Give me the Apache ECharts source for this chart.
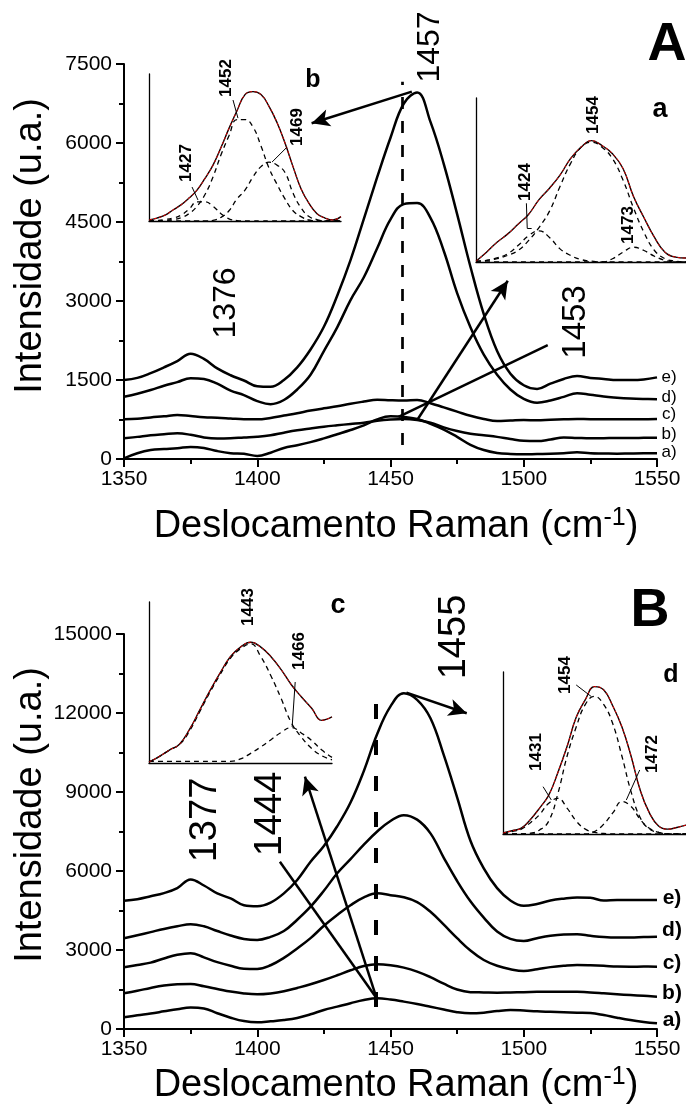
<!DOCTYPE html>
<html><head><meta charset="utf-8">
<script src="https://cdn.jsdelivr.net/npm/echarts@6/dist/echarts.min.js"></script>
<style>html,body{margin:0;padding:0;background:#fff}#c{width:686px;height:1109px}</style>
</head><body><div id="c"></div>
<script>
// ---------- DATA ----------
const ramanX = [1350,1355,1360,1365,1370,1375,1380,1385,1390,1395,1400,1405,1410,1415,1420,1425,1430,1435,1440,1445,1450,1455,1460,1465,1470,1475,1480,1485,1490,1495,1500,1505,1510,1515,1520,1525,1530,1535,1540,1545,1550];
const xTicks = [1350,1400,1450,1500,1550];
const yTicksA = [0,1500,3000,4500,6000,7500];
const yTicksB = [0,3000,6000,9000,12000,15000];

// Panel A spectra
const A_e = [1500,1540,1630,1740,1860,2000,1900,1720,1590,1490,1380,1370,1500,1740,2080,2510,3100,3776,4560,5350,6100,6750,6960,6400,5600,4650,3650,2750,2050,1620,1400,1330,1430,1520,1575,1540,1520,1500,1500,1510,1550];
const A_d = [1183,1240,1310,1390,1460,1535,1520,1430,1300,1214,1100,1040,1120,1320,1600,2050,2500,3017,3450,4000,4550,4840,4860,4580,3950,3150,2500,1980,1600,1320,1140,1068,1110,1180,1250,1220,1185,1165,1150,1140,1133];
const A_c = [753,765,790,810,835,815,795,785,770,755,753,780,825,870,920,962,1000,1050,1090,1125,1115,1110,1120,1060,980,900,820,760,720,730,740,735,745,753,760,755,755,755,753,755,760];
const A_b = [392,420,450,470,487,460,410,390,395,410,423,450,500,545,580,613,640,665,690,727,750,760,740,690,600,530,480,450,420,380,345,340,370,410,400,392,395,400,400,402,404];
const A_a = [13,110,171,190,205,230,210,150,110,100,57,120,210,260,320,392,470,550,640,753,810,800,760,670,560,420,270,170,115,95,89,95,100,110,127,110,105,100,105,108,108];

// Panel B spectra
const B_e = [4873,4930,5040,5160,5350,5680,5450,5150,4960,4700,4660,4800,5150,5660,6350,6950,7700,8600,9800,11200,12250,12750,12500,11800,10400,8800,7150,6100,5350,4880,4680,4750,4880,4950,4990,4980,4880,4900,4900,4900,4900];
const B_d = [3444,3560,3680,3800,3900,3980,3900,3720,3550,3420,3380,3500,3720,4150,4646,5250,5913,6450,7000,7500,7900,8120,7950,7430,6500,5620,4850,4230,3700,3420,3340,3450,3540,3590,3600,3540,3490,3470,3470,3490,3507];
const B_c = [2343,2430,2520,2680,2820,2880,2720,2540,2400,2290,2280,2420,2700,3060,3450,3920,4330,4700,5000,5154,5080,5000,4820,4450,3960,3450,2980,2620,2400,2270,2203,2270,2350,2400,2430,2420,2400,2370,2366,2370,2366];
const B_b = [1356,1450,1560,1650,1700,1709,1620,1520,1420,1350,1318,1350,1430,1560,1700,1861,2040,2230,2390,2457,2420,2330,2180,1970,1720,1500,1400,1390,1380,1390,1400,1410,1418,1418,1410,1390,1356,1320,1290,1260,1228];
const B_a = [444,520,590,670,750,815,780,600,430,300,253,290,340,420,560,722,850,980,1100,1165,1120,1040,950,845,740,640,595,620,680,720,700,670,655,640,620,605,530,430,340,270,215];

// Inset b (panel A, left)
const insetBX = [1395,1400,1405,1410,1415,1420,1425,1430,1435,1440,1445,1450,1455,1460,1465,1470,1475,1480,1485,1490,1495,1500,1505,1510,1515];
const insetB_total = [0.7,2,4,7.5,11,15.6,21,29,38,50,63,75,86,88,86,78,67,53,37,22,12,5,2,0.7,3];
const insetB_1427 = [0,0.3,1,2,4,8,13,13,10,5,1.5,0.3,0,0,0,0,0,0,0,0,0,0,0,0,0];
const insetB_1452 = [0,0,0.3,1,2.2,5,10,18,30,45,58,69,69,64,51,36,25,15,7,3,0.7,0,0,0,0];
const insetB_1469 = [0,0,0,0,0,0,0,0,0.5,2.5,7,15,21,30,37,40,38,33,19,9,3,1,0,0,0];

// Inset a (panel A, right)
const insetAX = [1400,1405,1410,1415,1420,1425,1430,1435,1440,1445,1450,1455,1460,1465,1470,1475,1480,1485,1490,1495,1500];
const insetA_total = [0.5,6,12,17,23,29,38,45,53,63,70,74,71,66,57,40,27,15,6,3,2.4];
const insetA_1424 = [0.5,1,2.5,5,10,16,19,15,8,4,1.5,0.5,0,0,0,0,0,0,0,0,0];
const insetA_1454 = [0.5,1,2,4,7,13,21,31,46,60,70,73,70,63,50,33,18,7,2,0.5,0];
const insetA_1473 = [0,0,0,0,0,0,0,0,0,0,0,0,0,2,6,9,7,3.5,1,0,0];

// Inset c (panel B, left)
const insetCX = [1395,1400,1405,1410,1415,1420,1425,1430,1435,1440,1445,1450,1455,1460,1465,1470,1475,1480,1485];
const insetC_total = [0.6,4,8,11.7,21,33,45,56,66,72,75,72,66,58,48.6,41,34,26.5,28.6];
const insetC_1443 = [0.6,4,8,11.5,20,32,44,55,65,71,74,66,54,40,25,16,9,4.5,2];
const insetC_1466 = [1,1,1,1,1,1,1,1,1,2.5,6,10,14.5,19,22,18.5,14,8,3.5];

// Inset d (panel B, right)
const insetDX = [1405,1410,1415,1420,1425,1430,1435,1440,1445,1450,1455,1460,1465,1470,1475,1480,1485,1490,1495,1500,1505];
const insetD_total = [0.6,2,3.6,9,16,24,38,54,72,83,91,89,79,66,48,27,13,5,3,4,5.5];
const insetD_1431 = [0.5,1.5,3,7,12,19,22,16,8,3,1,0.3,0,0,0,0,0,0,0,0,0];
const insetD_1454 = [0,0,0,0.5,2.5,8,25,48,66,80,85,80,68,48,26,10,3,1,0,0,0];
const insetD_1472 = [0,0,0,0,0,0,0,0,0,0,1.5,6,13,20,17,9,3.5,1,0,0,0];

// ---------- CHART ----------
const FF = '"Liberation Sans", Arial, sans-serif';
const chart = echarts.init(document.getElementById('c'), null, {renderer:'canvas', width:686, height:1109});
const zip = (xs, ys) => xs.map((x,i)=>[x, ys[i]]);
const plain = v => String(v);

function mainX(gi){ return {gridIndex:gi, type:'value', min:xTicks[0], max:xTicks[xTicks.length-1], interval:50,
  axisLine:{show:true, onZero:false, lineStyle:{color:'#000', width:2}},
  axisTick:{show:true, length:8, lineStyle:{color:'#000', width:2}},
  minorTick:{show:true, splitNumber:2, length:5, lineStyle:{color:'#000', width:2}},
  axisLabel:{show:true, color:'#000', fontSize:21, fontFamily:FF, margin:10, formatter:plain},
  splitLine:{show:false}, minorSplitLine:{show:false}}; }
function mainY(gi, ticks){ return {gridIndex:gi, type:'value', min:ticks[0], max:ticks[ticks.length-1], interval:ticks[1]-ticks[0],
  axisLine:{show:true, onZero:false, lineStyle:{color:'#000', width:2}},
  axisTick:{show:true, length:8, lineStyle:{color:'#000', width:2}},
  minorTick:{show:true, splitNumber:2, length:5, lineStyle:{color:'#000', width:2}},
  axisLabel:{show:true, color:'#000', fontSize:21, fontFamily:FF, margin:12, formatter:plain},
  splitLine:{show:false}, minorSplitLine:{show:false}}; }
function insetX(gi, xs){ return {gridIndex:gi, type:'value', min:xs[0], max:xs[xs.length-1],
  axisLine:{show:true, onZero:false, lineStyle:{color:'#000', width:1.3}}, axisTick:{show:false}, axisLabel:{show:false}, splitLine:{show:false}}; }
function insetY(gi){ return {gridIndex:gi, type:'value', min:0, max:100,
  axisLine:{show:true, onZero:false, lineStyle:{color:'#000', width:1.3}}, axisTick:{show:false}, axisLabel:{show:false}, splitLine:{show:false}}; }

function mainSeries(arr, gi, extra){ return Object.assign({type:'line', xAxisIndex:gi, yAxisIndex:gi, data:zip(ramanX, arr), smooth:0.4,
  symbol:'none', silent:true, animation:false, z:3, lineStyle:{color:'#000', width:2.5, join:'round'}}, extra||{}); }
function insetSeries(xs, arr, gi, kind, extra){
  let ls;
  if (kind==='total') ls = {color:'#000', width:1.4};
  else if (kind==='red') ls = {color:'#e00000', width:1, type:[3,2]};
  else ls = {color:'#000', width:1.3, type:[5,4]};
  return Object.assign({type:'line', xAxisIndex:gi, yAxisIndex:gi, data:zip(xs, arr), smooth:0.45, symbol:'none', silent:true, animation:false, z:4, lineStyle:ls}, extra||{});
}
function ml(lines){ return {silent:true, animation:false, symbol:['none','none'], label:{show:false}, emphasis:{disabled:true},
  lineStyle:{color:'#000', width:2.5, type:'solid'}, data:lines}; }
const seg = (p, q, opt) => [Object.assign({coord:p, symbol:'none'}, opt && opt.s||{}), Object.assign({coord:q, symbol:(opt&&opt.arrow)?'arrow':'none', symbolSize:[13,18]}, opt && opt.e||{})];
const leader = (p, q) => [{coord:p, symbol:'none'}, {coord:q, symbol:'none'}];

// annotation geometry (in data coordinates)
const annA = [
  [{coord:[1454.5, 266], symbol:'none', lineStyle:{type:[12,12], width:2.7}}, {coord:[1454.5, 7164], symbol:'none'}],
  seg([1458, 6975], [1420.4, 6374], {arrow:true}),
  seg([1460.2, 754], [1494, 3385], {arrow:true}),
  seg([1453, 800], [1509, 2164])
];
const annB = [
  [{coord:[1444.6, 836], symbol:'none', lineStyle:{type:[15,21], width:4}}, {coord:[1444.6, 12370], symbol:'none'}],
  seg([1456, 12773], [1478.6, 11990], {arrow:true}),
  seg([1444.8, 1166], [1417.9, 9582], {arrow:true}),
  seg([1444.8, 1166], [1408.5, 6354])
];
function leaderML(lines){ return {silent:true, animation:false, symbol:['none','none'], label:{show:false}, emphasis:{disabled:true}, lineStyle:{color:'#000', width:1, type:'solid'}, data:lines}; }

const series = [
  mainSeries(A_e, 0, {markLine: ml(annA)}), mainSeries(A_d, 0), mainSeries(A_c, 0), mainSeries(A_b, 0), mainSeries(A_a, 0),
  mainSeries(B_e, 1, {markLine: ml(annB)}), mainSeries(B_d, 1), mainSeries(B_c, 1), mainSeries(B_b, 1), mainSeries(B_a, 1),
  // inset b
  insetSeries(insetBX, insetB_1427, 2, 'comp'), insetSeries(insetBX, insetB_1452, 2, 'comp'), insetSeries(insetBX, insetB_1469, 2, 'comp'),
  insetSeries(insetBX, insetB_total, 2, 'total', {markLine: leaderML([leader([1421.9,23.1],[1425.6,14.3]), leader([1447.5,82.3],[1450.6,70]), leader([1481.3,50.3],[1471.9,40.1])])}),
  insetSeries(insetBX, insetB_total, 2, 'red'),
  // inset a
  insetSeries(insetAX, insetA_1424, 3, 'comp'), insetSeries(insetAX, insetA_1454, 3, 'comp'), insetSeries(insetAX, insetA_1473, 3, 'comp'),
  insetSeries(insetAX, insetA_total, 3, 'total', {markLine: leaderML([leader([1424,35.8],[1424.4,20.5]), leader([1424.4,20.5],[1426.5,20.5])])}),
  insetSeries(insetAX, insetA_total, 3, 'red'),
  // inset c
  insetSeries(insetCX, insetC_1443, 4, 'comp'), insetSeries(insetCX, insetC_1466, 4, 'comp'),
  insetSeries(insetCX, insetC_total, 4, 'total', {markLine: leaderML([leader([1466.9,50.3],[1465.4,22.4])])}),
  insetSeries(insetCX, insetC_total, 4, 'red'),
  // inset d
  insetSeries(insetDX, insetD_1431, 5, 'comp'), insetSeries(insetDX, insetD_1454, 5, 'comp'), insetSeries(insetDX, insetD_1472, 5, 'comp'),
  insetSeries(insetDX, insetD_total, 5, 'total', {markLine: leaderML([leader([1445,92],[1453.3,84.8]), leader([1426.9,29.2],[1431.4,21]), leader([1479.7,39.5],[1472.4,21])])}),
  insetSeries(insetDX, insetD_total, 5, 'red')
];

function txt(x, y, s, font, rot, extra){ return {type:'text', x:x, y:y, rotation:rot||0, silent:true, z:10,
  style:Object.assign({text:s, font:font, fill:'#000', align:'center', verticalAlign:'middle', textAlign:'center', textVerticalAlign:'middle'}, extra||{})}; }
const R = Math.PI/2;
const fBig = n => n + 'px ' + FF;
const fBold = n => 'bold ' + n + 'px ' + FF;
const xTitleRich = {m:{font:fBig(38), fill:'#000'}, s:{font:fBig(25), fill:'#000', verticalAlign:'top', padding:[0,0,18,0]}};

const graphics = [
  // axis titles
  txt(31, 246, 'Intensidade (u.a.)', fBig(38), R),
  txt(31, 815, 'Intensidade (u.a.)', fBig(38), R),
  txt(396, 527, '{m|Deslocamento Raman (cm}{s|-1}{m|)}', fBig(38), 0, {rich:xTitleRich}),
  txt(396, 1086, '{m|Deslocamento Raman (cm}{s|-1}{m|)}', fBig(38), 0, {rich:xTitleRich}),
  // panel letters
  txt(667, 45, 'A', fBold(54)), txt(650, 611, 'B', fBold(54)),
  // main peak labels
  txt(430, 47, '1457', fBig(32), R), txt(226, 303, '1376', fBig(32), R), txt(576, 322, '1453', fBig(33), R),
  txt(455, 637, '1455', fBig(38), R), txt(206, 820, '1377', fBig(38), R), txt(271, 814, '1444', fBig(38), R),
  // curve labels panel A
  txt(669, 377, 'e)', fBig(17)), txt(669, 397, 'd)', fBig(17)), txt(669, 414, 'c)', fBig(17)), txt(669, 434, 'b)', fBig(17)), txt(669, 452, 'a)', fBig(17)),
  // curve labels panel B
  txt(672, 898, 'e)', fBold(21)), txt(672, 930, 'd)', fBold(21)), txt(672, 963, 'c)', fBold(21)), txt(672, 993, 'b)', fBold(21)), txt(672, 1020, 'a)', fBold(21)),
  // inset labels
  txt(313, 80, 'b', fBold(25)), txt(186, 163, '1427', fBold(17), R), txt(226, 78, '1452', fBold(17), R), txt(297, 127, '1469', fBold(17), R),
  txt(660, 110, 'a', fBold(27)), txt(525, 182, '1424', fBold(17), R), txt(593, 115, '1454', fBold(17), R), txt(628, 225, '1473', fBold(17), R),
  txt(338, 606, 'c', fBold(27)), txt(248, 607, '1443', fBold(17), R), txt(299, 651, '1466', fBold(17), R),
  txt(671, 675, 'd', fBold(25)), txt(565, 675, '1454', fBold(17), R), txt(536, 752, '1431', fBold(17), R), txt(652, 754, '1472', fBold(17), R)
];

chart.setOption({
  animation:false,
  backgroundColor:'#fff',
  grid:[
    {left:124, top:64, width:533, height:395},
    {left:124, top:634, width:533, height:395},
    {left:149, top:74, width:192, height:147},
    {left:476, top:98, width:210, height:164},
    {left:149, top:602, width:183, height:161},
    {left:503, top:672, width:183, height:162}
  ],
  xAxis:[mainX(0), mainX(1), insetX(2, insetBX), insetX(3, insetAX), insetX(4, insetCX), insetX(5, insetDX)],
  yAxis:[mainY(0, yTicksA), mainY(1, yTicksB), insetY(2), insetY(3), insetY(4), insetY(5)],
  series: series,
  graphic: graphics
});
</script>
</body></html>
